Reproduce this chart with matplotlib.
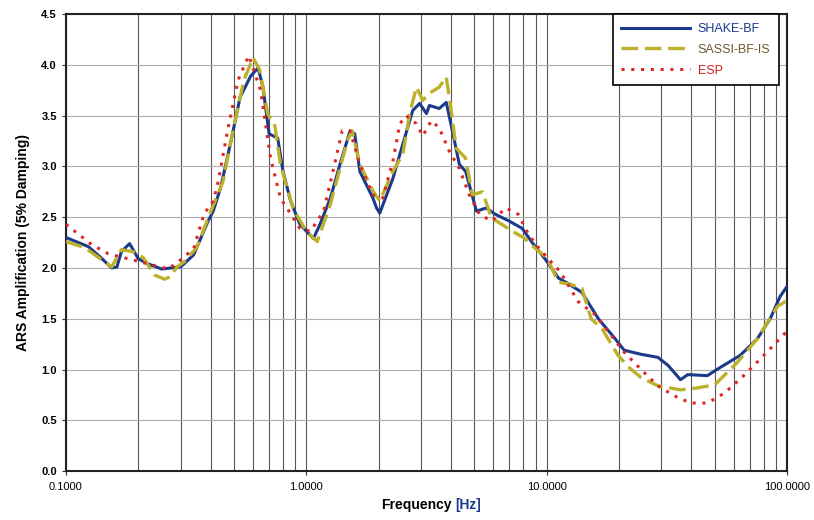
import matplotlib.pyplot as plt
from matplotlib.ticker import FixedLocator, LogLocator, NullFormatter

plt.rcParams['font.family'] = ['Liberation Sans', 'DejaVu Sans']

# SHAKE-BF
f_shake = [0.10, 0.124, 0.14, 0.155, 0.163, 0.17, 0.184, 0.20, 0.22, 0.25, 0.30, 0.34,
           0.39, 0.41, 0.44, 0.486, 0.53, 0.587, 0.63, 0.66, 0.70, 0.76, 0.80, 0.86,
           0.94, 1.07, 1.14, 1.26, 1.38, 1.52, 1.59, 1.67, 1.89, 1.96, 2.02, 2.29,
           2.52, 2.77, 2.96, 3.16, 3.25, 3.57, 3.82, 4.05, 4.33, 4.6, 5.1, 5.6, 6.1,
           7.0, 7.9, 8.7, 9.9, 11.2, 12.0, 14.0, 16.4, 19.3, 21.0, 24.7, 29.0, 32.0,
           36.0, 38.6, 46.6, 51.0, 63.8, 75.0, 85.0, 93.5, 100.0]
v_shake = [2.30, 2.21, 2.10, 2.00, 2.01, 2.16, 2.24, 2.09, 2.04, 1.99, 2.01, 2.13,
           2.46, 2.56, 2.79, 3.25, 3.68, 3.89, 3.97, 3.78, 3.32, 3.28, 2.95, 2.66,
           2.43, 2.29, 2.43, 2.69, 3.02, 3.35, 3.32, 2.95, 2.69, 2.59, 2.54, 2.88,
           3.22, 3.55, 3.62, 3.52, 3.60, 3.57, 3.63, 3.35, 3.02, 2.95, 2.56, 2.59, 2.53,
           2.46, 2.39, 2.25, 2.08, 1.90, 1.86, 1.76, 1.50, 1.30, 1.19, 1.15, 1.12, 1.04,
           0.90, 0.95, 0.94, 1.00, 1.14, 1.30, 1.50, 1.72, 1.82]

# SASSI-BF-IS
f_sassi = [0.10, 0.12, 0.155, 0.17, 0.19, 0.21, 0.234, 0.257, 0.27, 0.29, 0.31, 0.35,
           0.39, 0.45, 0.50, 0.55, 0.60, 0.64, 0.69, 0.74, 0.78, 0.88, 1.0, 1.11,
           1.26, 1.48, 1.55, 1.67, 1.89, 2.02, 2.29, 2.52, 2.69, 2.87, 3.05, 3.25,
           3.57, 3.82, 3.99, 4.2, 4.6, 4.9, 5.4, 5.9, 6.5, 7.2, 8.0, 8.7, 10.0, 11.2,
           12.5, 14.0, 15.3, 17.0, 19.8, 22.0, 24.7, 29.0, 36.0, 42.5, 50.0, 62.0,
           75.0, 91.0, 100.0]
v_sassi = [2.26, 2.20, 2.01, 2.18, 2.16, 2.10, 1.93, 1.89, 1.91, 2.01, 2.06, 2.20,
           2.49, 2.85, 3.40, 3.85, 4.07, 3.95, 3.52, 3.40, 3.02, 2.59, 2.36, 2.26,
           2.63, 3.25, 3.35, 3.02, 2.76, 2.66, 2.95, 3.12, 3.52, 3.78, 3.65, 3.72,
           3.78, 3.88, 3.58, 3.18, 3.08, 2.72, 2.75, 2.49, 2.43, 2.36, 2.30, 2.22, 2.10, 1.86,
           1.84, 1.80, 1.50, 1.40, 1.14, 1.02, 0.92, 0.84, 0.80, 0.82, 0.85, 1.07,
           1.30, 1.62, 1.68]

# ESP
f_esp = [0.10, 0.128, 0.15, 0.182, 0.22, 0.267, 0.30, 0.34, 0.375, 0.41, 0.43, 0.47,
         0.52, 0.576, 0.645, 0.71, 0.78, 0.94, 1.04, 1.18, 1.29, 1.41, 1.52, 1.67,
         1.89, 2.08, 2.29, 2.45, 2.6, 2.87, 3.05, 3.31, 3.57, 3.93, 4.33, 4.76, 5.25,
         5.9, 6.75, 7.6, 8.4, 9.3, 11.4, 13.5, 15.9, 21.0, 24.7, 29.0, 34.0, 39.7,
         46.6, 55.0, 66.0, 80.0, 100.0]
v_esp = [2.43, 2.23, 2.14, 2.09, 2.04, 1.99, 2.08, 2.19, 2.53, 2.66, 2.85, 3.35,
         3.85, 4.09, 3.75, 3.08, 2.69, 2.39, 2.36, 2.56, 2.95, 3.35, 3.35, 3.02,
         2.72, 2.69, 3.05, 3.42, 3.50, 3.42, 3.30, 3.45, 3.38, 3.15, 2.98, 2.72, 2.53,
         2.46, 2.59, 2.53, 2.33, 2.19, 1.96, 1.67, 1.54, 1.17, 1.00, 0.84, 0.74, 0.67,
         0.67, 0.77, 0.94, 1.14, 1.38]

x_ticks = [0.1, 1.0, 10.0, 100.0]
x_labels = ["0.1000", "1.0000", "10.0000", "100.0000"]
y_ticks = [0.0, 0.5, 1.0, 1.5, 2.0, 2.5, 3.0, 3.5, 4.0, 4.5]

fig = plt.figure(figsize=(8.14, 5.2), dpi=100)
ax = fig.add_axes([0.081, 0.094, 0.886, 0.879])

ax.plot(f_shake, v_shake, color="#1c3a8c", lw=2.2, label="SHAKE-BF", zorder=3)
ax.plot(f_sassi, v_sassi, color="#bdb02a", lw=2.4, dashes=(5, 2), label="SASSI-BF-IS", zorder=4)
ax.plot(f_esp, v_esp, color="#e02525", lw=2.2, dashes=(1, 2.2), label="ESP", zorder=5)

ax.set_xscale("log")
ax.set_xlim(0.1, 100)
ax.set_ylim(0, 4.5)
ax.xaxis.set_major_locator(FixedLocator(x_ticks))
ax.set_xticklabels(x_labels)
ax.xaxis.set_minor_locator(LogLocator(base=10, subs=range(2, 10)))
ax.xaxis.set_minor_formatter(NullFormatter())
ax.set_yticks(y_ticks)
ax.set_yticklabels([f"{v:.1f}" for v in y_ticks])

ax.grid(True, axis="x", which="both", color="#555555", lw=0.8)
ax.grid(True, axis="y", which="major", color="#b0b0b0", lw=0.8)
ax.set_axisbelow(True)

ax.tick_params(axis="both", which="both", length=3, labelsize=8, color="#333333")
ax.tick_params(axis="x", which="minor", length=0)
ax.tick_params(axis="x", pad=5)
for lbl in ax.get_yticklabels():
    lbl.set_fontweight("bold")
for sp in ax.spines.values():
    sp.set_linewidth(1.5)
    sp.set_color("#222222")

ax.set_ylabel("ARS Amplification (5% Damping)", fontsize=10, fontweight="bold", labelpad=8)
fig.text(0.5553, 0.022, "Frequency", ha="right", va="baseline", fontsize=10, fontweight="bold")
fig.text(0.5595, 0.022, "[Hz]", ha="left", va="baseline", fontsize=10, fontweight="bold", color="#1c3a8c")

leg = ax.legend(loc="upper right", bbox_to_anchor=(0.9975, 1.013), fancybox=False, framealpha=1,
                edgecolor="black", fontsize=9, handlelength=5.5, handletextpad=0.6,
                borderpad=0.7, labelspacing=0.7)
leg.get_frame().set_linewidth(1.2)
for txt, c in zip(leg.get_texts(), ["#1c3a8c", "#6b5a2a", "#d02020"]):
    txt.set_color(c)

fig.savefig("out.png", dpi=100)
